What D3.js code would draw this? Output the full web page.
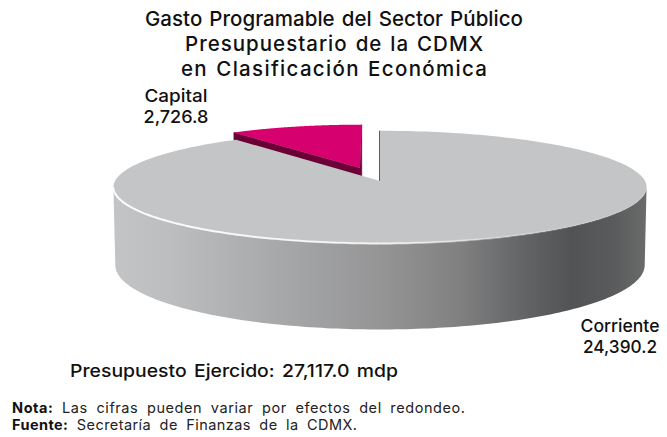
<!DOCTYPE html>
<html>
<head>
<meta charset="utf-8">
<script src="https://cdn.jsdelivr.net/npm/d3@7"></script>
<style>
  body { margin: 0; background: #fff; }
  svg { display: block; }
  text { font-family: Inter, "DejaVu Sans", sans-serif; fill: #111; }
</style>
</head>
<body>
<svg id="chart" width="667" height="437"></svg>
<script>
// ---- data ----
const titleLines = [
  "Gasto Programable del Sector Público",
  "Presupuestario de la CDMX",
  "en Clasificación Económica"
];
const categories = ["Corriente", "Capital"];
const values = [24390.2, 2726.8];
const valueLabels = ["24,390.2", "2,726.8"];
const totalLabel = "Presupuesto Ejercido: 27,117.0 mdp";
const notePrefixes = ["Nota:", "Fuente:"];
const noteTexts = [" Las cifras pueden variar por efectos del redondeo.",
                   " Secretaría de Finanzas de la CDMX."];

// ---- styling ----
const topColor = { Corriente: "#c4c5c7", Capital: "#d6006f" };
const faceColor = { Corriente: "#5b5b5b", Capital: "#6a0035" };
const explode = { Corriente: 0, Capital: 0.25 };
const shrink = { Corriente: 1, Capital: 0.9 };

const svg = d3.select("#chart");
const defs = svg.append("defs");

// ---- 3D camera: unit-radius pie viewed from slightly above ----
const view = { cx: 380, cy: 181, r: 265, dist: 9, tilt: 0.21, depth: 0.3 };
const sinT = view.tilt, cosT = Math.sqrt(1 - sinT * sinT);
const cam = [0, view.dist * sinT, view.dist * cosT];

function project(x, y, z) {
  const w = view.dist - (y * sinT + z * cosT);
  const u = y * cosT - z * sinT;
  const k = view.r * view.dist / w;
  return [view.cx + x * k, view.cy - u * k];
}
// point on a slice rim: angle a (0 = back, clockwise), radius rad, height y
function rimPt(a, rad, off, y) {
  return project(off[0] + rad * Math.sin(a), y, off[1] - rad * Math.cos(a));
}
function samples(a0, a1, n) {
  return d3.range(n + 1).map(i => a0 + (a1 - a0) * i / n);
}

const pie = d3.pie().sort(null).startAngle(0).endAngle(2 * Math.PI);
const slices = pie(values).map((d, i) => {
  const name = categories[i];
  const mid = (d.startAngle + d.endAngle) / 2;
  const e = explode[name];
  return { ...d, name, off: [e * Math.sin(mid), -e * Math.cos(mid)], rad: shrink[name] };
});

const line = d3.line();
const D = -view.depth;

// side wall gradient
const sideGrad = defs.append("linearGradient").attr("id", "sideGrad")
  .attr("x1", 0).attr("x2", 1).attr("y1", 0).attr("y2", 0);
[[0, "#c2c4c6"], [0.1, "#bcbec0"], [0.3, "#a8a9ab"], [0.5, "#959596"],
 [0.65, "#808081"], [0.78, "#606264"], [0.86, "#515355"], [0.94, "#5a5b5c"], [1, "#6b6b6b"]]
  .forEach(([o, c]) => sideGrad.append("stop").attr("offset", o).attr("stop-color", c));

const rimGrad = defs.append("linearGradient").attr("id", "rimGrad")
  .attr("x1", 0).attr("x2", 1).attr("y1", 0).attr("y2", 0);
[[0, "#ffffff", 0.95], [0.5, "#ffffff", 0.8], [0.75, "#ffffff", 0.25], [1, "#ffffff", 0]]
  .forEach(([o, c, op]) => rimGrad.append("stop").attr("offset", o)
    .attr("stop-color", c).attr("stop-opacity", op));

// angular range of the outer wall that faces the camera
const aVis = Math.acos(-1 / (view.dist * cosT));
const wallRange = [aVis, 2 * Math.PI - aVis];

const g = svg.append("g");

// back slices first so nearer ones paint over them
const order = slices.slice().sort((a, b) => a.off[1] - b.off[1]);

order.forEach(s => {
  const gs = g.append("g").attr("class", "slice-" + s.name);
  const { off, rad } = s;

  // radial faces
  [[s.startAngle, -1], [s.endAngle, 1]].forEach(([a, sgn]) => {
    const n = [sgn * Math.cos(a), 0, sgn * Math.sin(a)];
    const p = [off[0] + 0.5 * rad * Math.sin(a), D / 2, off[1] - 0.5 * rad * Math.cos(a)];
    const dot = n[0] * (cam[0] - p[0]) + n[1] * (cam[1] - p[1]) + n[2] * (cam[2] - p[2]);
    if (dot < -1e-3) return;
    const pts = [project(off[0], 0, off[1]), rimPt(a, rad, off, 0),
                 rimPt(a, rad, off, D), project(off[0], D, off[1])];
    gs.append("path").attr("d", line(pts) + "Z")
      .attr("fill", faceColor[s.name]).attr("stroke", faceColor[s.name])
      .attr("stroke-width", Math.abs(dot) < 1e-3 ? 2 : 0.6);
  });

  // outer wall
  const w0 = Math.max(s.startAngle, wallRange[0]);
  const w1 = Math.min(s.endAngle, wallRange[1]);
  if (w1 > w0) {
    const as = samples(w0, w1, 160);
    const pts = as.map(a => rimPt(a, rad, off, 0))
      .concat(as.slice().reverse().map(a => rimPt(a, rad, off, D)));
    gs.append("path").attr("d", line(pts) + "Z")
      .attr("fill", s.name === "Corriente" ? "url(#sideGrad)" : faceColor[s.name]);
  }

  // top face
  const tp = [project(off[0], 0, off[1])]
    .concat(samples(s.startAngle, s.endAngle, 240).map(a => rimPt(a, rad, off, 0)));
  gs.append("path").attr("d", line(tp) + "Z").attr("fill", topColor[s.name]);

  // bright bevel along the front rim
  if (w1 > w0 && s.name === "Corriente") {
    const rp = samples(w1, w0, 160).map(a => rimPt(a, rad, off, 0));
    gs.append("path").attr("d", line(rp)).attr("fill", "none")
      .attr("stroke", "url(#rimGrad)").attr("stroke-width", 2);
  }
});

// ---- text ----
function fit(sel, width, mode) {
  sel.attr("textLength", width).attr("lengthAdjust", mode || "spacingAndGlyphs");
  return sel;
}

const titleWidths = [378, 298, 306];
titleLines.forEach((t, i) => {
  fit(svg.append("text").attr("x", 334).attr("y", 26 + i * 25)
    .attr("text-anchor", "middle").attr("font-size", 20.5).attr("font-weight", 500)
    .attr("word-spacing", 1.5).text(t), titleWidths[i], "spacing");
});

// slice labels
const labelPos = { Capital: [176, 102], Corriente: [620, 332] };
const labelWidths = { Capital: [63, 65], Corriente: [79, 74] };
slices.forEach((s, i) => {
  const [x, y] = labelPos[s.name];
  const t = svg.append("text").attr("text-anchor", "middle")
    .attr("font-size", 17.5).attr("font-weight", 500);
  fit(t.append("tspan").attr("x", x).attr("y", y).text(s.name), labelWidths[s.name][0]);
  fit(t.append("tspan").attr("x", x).attr("y", y + 21).text(valueLabels[i]), labelWidths[s.name][1]);
});

fit(svg.append("text").attr("x", 70).attr("y", 377).attr("font-size", 17.5)
  .attr("font-weight", 500).attr("word-spacing", 2).text(totalLabel), 328);

const noteWidths = [453, 345];
notePrefixes.forEach((p, i) => {
  const t = svg.append("text").attr("x", 12).attr("y", 413 + i * 17)
    .attr("font-size", 14.5).attr("word-spacing", 4);
  t.append("tspan").attr("font-weight", 700).text(p);
  t.append("tspan").attr("font-weight", 400).attr("fill", "#222").text(noteTexts[i]);
  fit(t, noteWidths[i], "spacing");
});
</script>
</body>
</html>
